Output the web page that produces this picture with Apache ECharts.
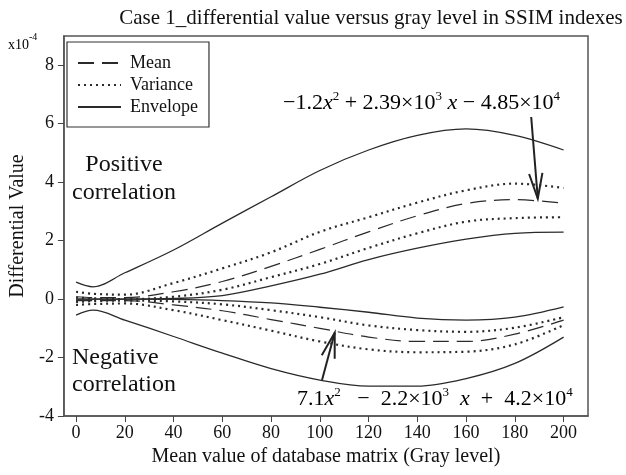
<!DOCTYPE html>
<html>
<head>
<meta charset="utf-8">
<script src="https://cdn.jsdelivr.net/npm/echarts@6/dist/echarts.min.js"></script>
<style>
html,body{margin:0;padding:0;background:#fff;}
#chart{width:626px;height:475px;}
</style>
</head>
<body>
<div id="chart"></div>
<script>
// ---- data (units of 1e-4) ----
const grayLevel = [0, 7, 20, 40, 60, 80, 100, 120, 140, 160, 180, 200];

const envelopeUpperOuter = [0.58, 0.42, 0.90, 1.68, 2.60, 3.50, 4.40, 5.10, 5.60, 5.82, 5.60, 5.10];
const varianceUpperTop   = [0.25, 0.18, 0.15, 0.55, 1.05, 1.60, 2.30, 2.80, 3.30, 3.72, 3.95, 3.80];
const meanUpper          = [0.08, 0.05, 0.05, 0.25, 0.60, 1.12, 1.70, 2.30, 2.85, 3.27, 3.40, 3.28];
const varianceUpperBot   = [0.05, 0.03, 0.00, 0.08, 0.32, 0.75, 1.20, 1.75, 2.25, 2.65, 2.77, 2.80];
const envelopeUpperInner = [0.00, 0.00, 0.00, 0.02, 0.12, 0.45, 0.85, 1.35, 1.74, 2.05, 2.25, 2.29];

const envelopeLowerInner = [0.00, 0.00, 0.00, -0.01, -0.05, -0.13, -0.28, -0.45, -0.65, -0.72, -0.62, -0.27];
const varianceLowerTop   = [-0.10, -0.07, -0.05, -0.08, -0.18, -0.38, -0.62, -0.90, -1.06, -1.12, -0.98, -0.62];
const meanLower          = [-0.05, -0.05, -0.05, -0.20, -0.40, -0.70, -1.00, -1.30, -1.45, -1.45, -1.20, -0.72];
const varianceLowerBot   = [-0.20, -0.17, -0.15, -0.38, -0.72, -1.08, -1.45, -1.72, -1.82, -1.80, -1.55, -0.89];
const envelopeLowerOuter = [-0.55, -0.38, -0.72, -1.28, -1.85, -2.38, -2.77, -2.98, -2.98, -2.72, -2.20, -1.30];

const xTicks = [0, 20, 40, 60, 80, 100, 120, 140, 160, 180, 200];
const yTicks = [-4, -2, 0, 2, 4, 6, 8];

// annotation arrows: [tailX, tailY, tipX, tipY] in data units
const arrowUpper = [186.7, 6.23, 189.4, 3.44];
const arrowLower = [100.9, -2.77, 106.1, -1.15];

// ---- chart ----
const FONT = "'Liberation Serif', 'Times New Roman', serif";
const LINE = '#2a2a2a';
const chart = echarts.init(document.getElementById('chart'), null, {renderer: 'canvas'});

function pts(arr) { return grayLevel.map((x, i) => [x, arr[i]]); }
const styles = {
  Mean: {type: [16, 8], width: 1.2},
  Variance: {type: [2, 4], width: 2.2, cap: 'butt'},
  Envelope: {type: 'solid', width: 1.3}
};
function mk(name, arr) {
  return {
    name: name, type: 'line', data: pts(arr), symbol: 'none', smooth: 0.35,
    lineStyle: Object.assign({color: LINE}, styles[name]),
    itemStyle: {color: LINE}, silent: true, animation: false
  };
}

const option = {
  animation: false,
  backgroundColor: '#fff',
  grid: {left: 59, right: 38, top: 36, bottom: 59, show: true, borderColor: '#555', borderWidth: 1.5},
  legend: {
    orient: 'vertical', left: 67, top: 42,
    data: ['Mean', 'Variance', 'Envelope'],
    itemWidth: 43, itemHeight: 14, itemGap: 4,
    padding: [12, 11, 11, 10],
    borderColor: '#333', borderWidth: 1.2,
    itemStyle: {opacity: 0, color: 'transparent', borderWidth: 0},
    textStyle: {fontFamily: FONT, fontSize: 18, color: '#111', lineHeight: 18, padding: [0, 0, 0, 4]},
    selectedMode: false
  },
  xAxis: {
    type: 'value', min: -5, max: 210,
    splitLine: {show: false},
    axisLine: {show: true, onZero: false, lineStyle: {color: '#555', width: 1.5}},
    axisTick: {show: true, length: 6, customValues: xTicks, lineStyle: {color: '#444'}},
    axisLabel: {customValues: xTicks, fontFamily: FONT, fontSize: 18, color: '#111', margin: 8},
    name: 'Mean value of database matrix (Gray level)',
    nameLocation: 'middle', nameGap: 29,
    nameTextStyle: {fontFamily: FONT, fontSize: 20, color: '#111'}
  },
  yAxis: {
    type: 'value', min: -4, max: 9,
    splitLine: {show: false},
    axisLine: {show: true, onZero: false, lineStyle: {color: '#555', width: 1.5}},
    axisTick: {show: true, length: 6, customValues: yTicks, lineStyle: {color: '#444'}},
    axisLabel: {customValues: yTicks, fontFamily: FONT, fontSize: 18, color: '#111', margin: 10},
    name: 'Differential Value',
    nameLocation: 'middle', nameGap: 32, nameRotate: 90,
    nameTextStyle: {fontFamily: FONT, fontSize: 20, color: '#111'}
  },
  series: [
    mk('Envelope', envelopeUpperOuter),
    mk('Variance', varianceUpperTop),
    mk('Mean', meanUpper),
    mk('Variance', varianceUpperBot),
    mk('Envelope', envelopeUpperInner),
    mk('Envelope', envelopeLowerInner),
    mk('Variance', varianceLowerTop),
    mk('Mean', meanLower),
    mk('Variance', varianceLowerBot),
    mk('Envelope', envelopeLowerOuter)
  ]
};
chart.setOption(option);

// ---- annotations ----
const eqRich = {
  n: {fontFamily: FONT, fontSize: 22, color: '#111', lineHeight: 28, verticalAlign: 'middle'},
  i: {fontFamily: FONT, fontSize: 22, fontStyle: 'italic', color: '#111', lineHeight: 28, verticalAlign: 'middle'},
  s: {fontFamily: FONT, fontSize: 13, color: '#111', lineHeight: 28, verticalAlign: 'top', padding: [1, 0, 0, 0]}
};

function arrowGraphics(a) {
  const t = chart.convertToPixel({gridIndex: 0}, [a[0], a[1]]);
  const p = chart.convertToPixel({gridIndex: 0}, [a[2], a[3]]);
  const ang = Math.atan2(p[1] - t[1], p[0] - t[0]);
  const L = 26, spread = 0.26;
  const h1 = [p[0] - L * Math.cos(ang - spread), p[1] - L * Math.sin(ang - spread)];
  const h2 = [p[0] - L * Math.cos(ang + spread), p[1] - L * Math.sin(ang + spread)];
  const st = {stroke: '#222', lineWidth: 2, fill: null};
  return [
    {type: 'line', shape: {x1: t[0], y1: t[1], x2: p[0], y2: p[1]}, style: st},
    {type: 'polyline', shape: {points: [h1, p, h2]}, style: st}
  ];
}

const graphics = [
  {type: 'text', x: 371, y: 18, style: {text: 'Case 1_differential value versus gray level in SSIM indexes',
    font: '21px ' + FONT, fill: '#111', textAlign: 'center', textVerticalAlign: 'middle'}},
  {type: 'text', x: 8, y: 42, style: {text: '{a|x10}{b|-4}', textVerticalAlign: 'middle',
    rich: {a: {fontFamily: FONT, fontSize: 14, color: '#111', lineHeight: 20, verticalAlign: 'bottom'},
           b: {fontFamily: FONT, fontSize: 10, color: '#111', lineHeight: 20, verticalAlign: 'top'}}}},
  {type: 'text', x: 124, y: 165, style: {text: 'Positive', font: '24px ' + FONT, fill: '#111', textAlign: 'center', textVerticalAlign: 'middle'}},
  {type: 'text', x: 72, y: 193, style: {text: 'correlation', font: '24px ' + FONT, fill: '#111', textAlign: 'left', textVerticalAlign: 'middle'}},
  {type: 'text', x: 72, y: 358, style: {text: 'Negative', font: '24px ' + FONT, fill: '#111', textAlign: 'left', textVerticalAlign: 'middle'}},
  {type: 'text', x: 72, y: 385, style: {text: 'correlation', font: '24px ' + FONT, fill: '#111', textAlign: 'left', textVerticalAlign: 'middle'}},
  {type: 'text', x: 283, y: 103, style: {textVerticalAlign: 'middle', rich: eqRich,
    text: '{n|\u22121.2}{i|x}{s|2}{n| + 2.39\u00d710}{s|3}{i| x}{n| \u2212 4.85\u00d710}{s|4}'}},
  {type: 'text', x: 297, y: 399, style: {textVerticalAlign: 'middle', rich: eqRich,
    text: '{n|7.1}{i|x}{s|2}{n|   \u2212  2.2\u00d710}{s|3}{i|  x}{n|  +  4.2\u00d710}{s|4}'}}
].concat(arrowGraphics(arrowUpper), arrowGraphics(arrowLower));

chart.setOption({graphic: graphics});
</script>
</body>
</html>
